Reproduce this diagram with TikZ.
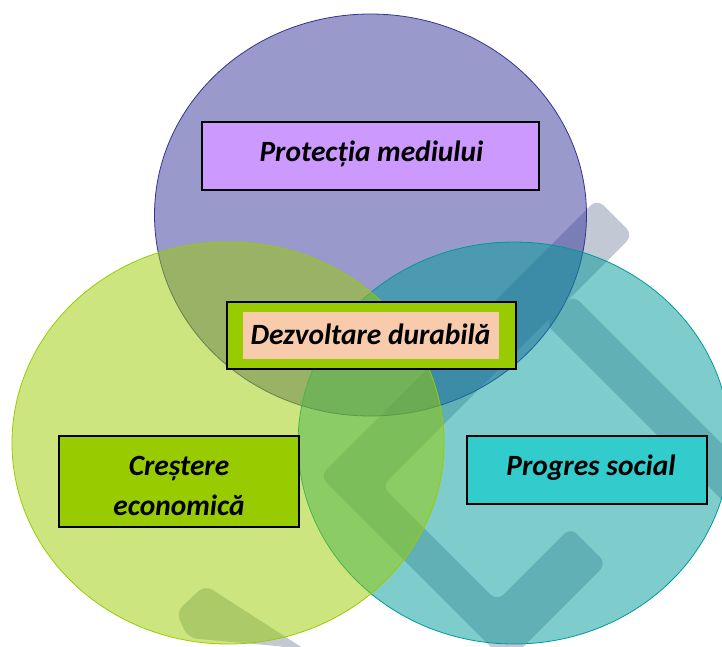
\documentclass[tikz,border=0pt]{standalone}
\usepackage{fontspec}
\setmainfont{Carlito}
\usetikzlibrary{shapes.geometric}
\definecolor{purpleC}{RGB}{51,51,153}
\definecolor{greenC}{RGB}{153,204,0}
\definecolor{tealC}{RGB}{0,153,153}
\definecolor{wmgray}{RGB}{194,201,212}
\definecolor{boxPurple}{RGB}{204,153,255}
\definecolor{boxGreen}{RGB}{153,204,0}
\definecolor{boxPeach}{RGB}{248,203,173}
\definecolor{boxTeal}{RGB}{51,204,204}
\begin{document}
\begin{tikzpicture}[x=1pt,y=-1pt,
  circ/.style={ellipse, inner sep=0pt, fill opacity=0.5, draw opacity=1, line width=0.8pt, minimum width=432pt, minimum height=402pt},
  box/.style={draw=black, line width=2pt, inner sep=0pt},
  lbl/.style={font=\fontsize{29.4}{40}\selectfont\bfseries\itshape, inner sep=0pt, anchor=base, text=black},
  wm/.style={fill=wmgray, rounded corners=9pt}]
\useasboundingbox (0,0) rectangle (722,646);
\clip (0,0) rectangle (722,646);
% watermark behind the circles
\fill[wm] (597,199) -- (633,235) -- (382,486) -- (497,601) -- (570.5,527.5) -- (606.5,563.5) -- (507,663) -- (320,476) -- cycle;
\fill[wm] (573,295) -- (780,502) -- (780,558) -- (545,323) -- cycle;
\fill[wm] (205,585) -- (176,612) -- (188,638) -- (288,647) -- (368,690) -- cycle;
% circles
\node[circ, draw=purpleC, fill=purpleC] (env) at (370.5,215) {};
\node[circ, draw=tealC, fill=tealC] (soc) at (514,443) {};
\node[circ, draw=greenC, fill=greenC] (eco) at (228,443) {};
% boxes
\node[box, fill=boxPurple, minimum width=337pt, minimum height=68pt] (pm) at (370.5,156) {};
\node[lbl] (pmt) at (371.5,161) {Protecția mediului};
\node[box, fill=boxGreen, minimum width=289pt, minimum height=67pt] (dd) at (371.5,335.5) {};
\node[fill=boxPeach, inner sep=0pt, minimum width=256pt, minimum height=47pt] (ddi) at (371,335.5) {};
\node[lbl] (ddt) at (370.5,344) {Dezvoltare durabilă};
\node[box, fill=boxGreen, minimum width=240pt, minimum height=91pt] (ce) at (179,481.5) {};
\node[lbl] (ce1) at (179,475) {Creștere};
\node[lbl] (ce2) at (179,515) {economică};
\node[box, fill=boxTeal, minimum width=240pt, minimum height=68pt] (ps) at (587,470) {};
\node[lbl] (pst) at (591,475) {Progres social};
\end{tikzpicture}
\end{document}
